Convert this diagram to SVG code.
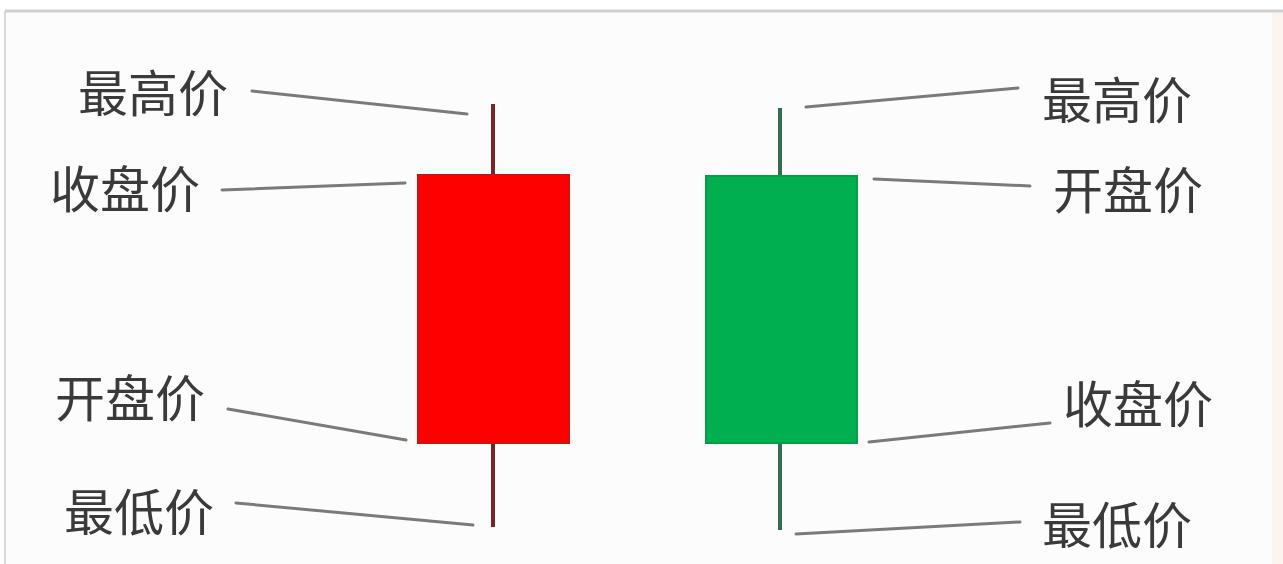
<svg xmlns="http://www.w3.org/2000/svg" width="1283" height="564" viewBox="0 0 1283 564">
<style>
.lbl{font-family:"Noto Sans CJK SC","Noto Sans",sans-serif;font-size:50px;fill:#3a3a3a;}
.lead{stroke:#7a7a7a;stroke-width:3;fill:none;stroke-linecap:round;}
</style>
<rect x="0" y="0" width="1283" height="564" fill="#ffffff"/>
<rect x="5" y="11" width="1278" height="553" fill="#fcfcfc"/>
<rect x="1272" y="11" width="11" height="553" fill="#fdf4ee"/>
<line x1="5" y1="11" x2="1283" y2="11" stroke="#cfcfcf" stroke-width="3"/>
<line x1="5" y1="11" x2="5" y2="564" stroke="#d8d8d8" stroke-width="2"/>
<g id="connectors">
<line class="lead" x1="252" y1="91" x2="467" y2="114"/>
<line class="lead" x1="222" y1="190" x2="405" y2="183"/>
<line class="lead" x1="228" y1="409" x2="406" y2="440"/>
<line class="lead" x1="236" y1="503" x2="473" y2="525"/>
<line class="lead" x1="806" y1="107" x2="1018" y2="88"/>
<line class="lead" x1="874" y1="179" x2="1030" y2="186"/>
<line class="lead" x1="869" y1="442" x2="1050" y2="423"/>
<line class="lead" x1="796" y1="534" x2="1020" y2="522"/>
</g>
<g id="red-candle">
<line x1="493" y1="104" x2="493" y2="527" stroke="#7a2424" stroke-width="4"/>
<rect x="418" y="175" width="151" height="268" fill="#ff0000" stroke="#d41010" stroke-width="2"/>
</g>
<g id="green-candle">
<line x1="780" y1="108" x2="780" y2="530" stroke="#2f6e52" stroke-width="4"/>
<rect x="706" y="176" width="151" height="267" fill="#00b050" stroke="#0a9a48" stroke-width="2"/>
</g>
<g id="left-high"><text class="lbl" x="78" y="112">最高价</text></g>
<g id="left-close"><text class="lbl" x="50" y="208">收盘价</text></g>
<g id="left-open"><text class="lbl" x="55" y="417">开盘价</text></g>
<g id="left-low"><text class="lbl" x="64" y="531">最低价</text></g>
<g id="right-high"><text class="lbl" x="1042" y="119">最高价</text></g>
<g id="right-open"><text class="lbl" x="1053" y="209">开盘价</text></g>
<g id="right-close"><text class="lbl" x="1063" y="423">收盘价</text></g>
<g id="right-low"><text class="lbl" x="1042" y="544">最低价</text></g>
</svg>
